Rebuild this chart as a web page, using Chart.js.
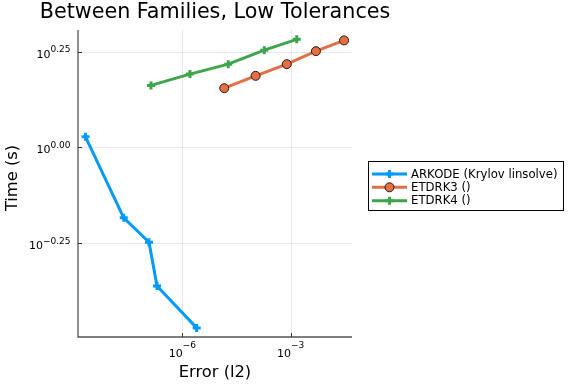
<!DOCTYPE html>
<html>
<head>
<meta charset="utf-8">
<script src="https://cdn.jsdelivr.net/npm/chart.js@4"></script>
<style>
  html, body { margin: 0; padding: 0; background: #fff; }
</style>
</head>
<body>
<canvas id="chart" width="576" height="384"></canvas>
<script>
// data (log-log)
const seriesNames = ['ARKODE (Krylov linsolve)', 'ETDRK3 ()', 'ETDRK4 ()'];
const arkodeError = [2.1e-9, 2.4e-8, 1.2e-7, 2.0e-7, 2.5e-6];
const arkodeTime = [1.066, 0.655, 0.566, 0.435, 0.338];
const etdrk3Error = [1.45e-5, 1.07e-4, 7.8e-4, 5.0e-3, 3.0e-2];
const etdrk3Time = [1.428, 1.538, 1.650, 1.784, 1.903];
const etdrk4Error = [1.36e-7, 1.63e-6, 1.87e-5, 1.86e-4, 1.47e-3];
const etdrk4Time = [1.452, 1.554, 1.650, 1.795, 1.915];

const xTicks = [1e-6, 1e-3];
const xTickLabels = [['10', '\u22126'], ['10', '\u22123']];
const yTicks = [Math.pow(10, -0.25), 1, Math.pow(10, 0.25)];
const yTickLabels = [['10', '\u22120.25'], ['10', '0.00'], ['10', '0.25']];

const FONT = "'DejaVu Sans', sans-serif";
const pts = (xs, ys) => xs.map((x, i) => ({x: x, y: ys[i]}));

// grid, spines, tick labels, titles and legend box
const decor = {
  id: 'decor',
  beforeDatasetsDraw(chart) {
    const ctx = chart.ctx, a = chart.chartArea;
    const xs = chart.scales.x, ys = chart.scales.y;
    ctx.save();
    ctx.strokeStyle = 'rgba(0,0,0,0.09)';
    ctx.lineWidth = 1;
    xTicks.forEach(t => {
      const px = Math.round(xs.getPixelForValue(t)) + 0.5;
      ctx.beginPath(); ctx.moveTo(px, a.top); ctx.lineTo(px, a.bottom); ctx.stroke();
    });
    yTicks.forEach(t => {
      const py = Math.round(ys.getPixelForValue(t)) + 0.5;
      ctx.beginPath(); ctx.moveTo(a.left, py); ctx.lineTo(a.right, py); ctx.stroke();
    });
    // spines
    ctx.strokeStyle = '#555';
    ctx.lineWidth = 1.3;
    ctx.beginPath();
    ctx.moveTo(a.left, a.top); ctx.lineTo(a.left, a.bottom); ctx.lineTo(a.right, a.bottom);
    ctx.stroke();
    ctx.lineWidth = 1;
    ctx.strokeStyle = '#333';
    xTicks.forEach(t => {
      const px = Math.round(xs.getPixelForValue(t)) + 0.5;
      ctx.beginPath(); ctx.moveTo(px, a.bottom); ctx.lineTo(px, a.bottom - 4); ctx.stroke();
    });
    yTicks.forEach(t => {
      const py = Math.round(ys.getPixelForValue(t)) + 0.5;
      ctx.beginPath(); ctx.moveTo(a.left, py); ctx.lineTo(a.left + 4, py); ctx.stroke();
    });
    ctx.restore();
  },
  afterDraw(chart) {
    const ctx = chart.ctx, a = chart.chartArea;
    const xs = chart.scales.x, ys = chart.scales.y;
    ctx.save();
    ctx.fillStyle = '#000';
    ctx.textBaseline = 'alphabetic';
    ctx.textAlign = 'left';
    const base = '11px ' + FONT, sup = '9px ' + FONT;

    // x tick labels
    xTicks.forEach((t, i) => {
      const px = xs.getPixelForValue(t);
      ctx.font = base;
      const wb = ctx.measureText(xTickLabels[i][0]).width;
      ctx.font = sup;
      const ws = ctx.measureText(xTickLabels[i][1]).width;
      const x0 = px - (wb + ws) / 2;
      ctx.font = base;
      ctx.fillText(xTickLabels[i][0], x0, a.bottom + 20);
      ctx.font = sup;
      ctx.fillText(xTickLabels[i][1], x0 + wb, a.bottom + 11);
    });
    // y tick labels
    yTicks.forEach((t, i) => {
      const py = ys.getPixelForValue(t);
      ctx.font = sup;
      const ws = ctx.measureText(yTickLabels[i][1]).width;
      ctx.font = base;
      const wb = ctx.measureText(yTickLabels[i][0]).width;
      const right = a.left - 7.5;
      ctx.fillText(yTickLabels[i][0], right - ws - wb, py + 6);
      ctx.font = sup;
      ctx.fillText(yTickLabels[i][1], right - ws, py + 0.5);
    });

    // title and axis titles
    ctx.textAlign = 'center';
    ctx.font = '20.7px ' + FONT;
    ctx.fillText('Between Families, Low Tolerances', (a.left + a.right) / 2, 18);
    ctx.font = '16.3px ' + FONT;
    ctx.fillText('Error (l2)', (a.left + a.right) / 2, 377);
    ctx.save();
    ctx.translate(17, 178);
    ctx.rotate(-Math.PI / 2);
    ctx.fillText('Time (s)', 0, 0);
    ctx.restore();

    // legend
    ctx.strokeStyle = '#000';
    ctx.lineWidth = 1;
    ctx.strokeRect(368.5, 161.5, 195, 49);
    const rows = [174, 187.3, 200.7];
    ctx.textAlign = 'left';
    ctx.textBaseline = 'middle';
    chart.data.datasets.forEach((ds, i) => {
      const y = rows[i];
      ctx.strokeStyle = ds.borderColor;
      ctx.lineWidth = 3;
      ctx.beginPath(); ctx.moveTo(372, y); ctx.lineTo(407, y); ctx.stroke();
      ctx.fillStyle = ds.pointBackgroundColor;
      ctx.strokeStyle = ds.pointBorderColor;
      ctx.lineWidth = ds.pointBorderWidth;
      ctx.beginPath();
      if (ds.pointStyle === 'circle') {
        ctx.arc(389.5, y, ds.pointRadius, 0, Math.PI * 2);
        ctx.fill(); ctx.stroke();
      } else {
        const r = ds.pointRadius;
        ctx.moveTo(389.5 - r, y); ctx.lineTo(389.5 + r, y);
        ctx.moveTo(389.5, y - r); ctx.lineTo(389.5, y + r);
        ctx.stroke();
      }
      ctx.fillStyle = '#000';
      ctx.font = '11.7px ' + FONT;
      ctx.fillText(ds.label, 411, y + 0.5);
    });
    ctx.restore();
  }
};

new Chart(document.getElementById('chart'), {
  type: 'line',
  data: {
    datasets: [
      {
        label: seriesNames[0],
        data: pts(arkodeError, arkodeTime),
        borderColor: '#009AFA',
        borderWidth: 3,
        pointStyle: 'cross',
        pointRadius: 4,
        pointBorderWidth: 3,
        pointBorderColor: '#009AFA',
        pointBackgroundColor: '#009AFA'
      },
      {
        label: seriesNames[1],
        data: pts(etdrk3Error, etdrk3Time),
        borderColor: '#E26F46',
        borderWidth: 3,
        pointStyle: 'circle',
        pointRadius: 4.5,
        pointBorderWidth: 1,
        pointBorderColor: '#2a1a14',
        pointBackgroundColor: '#E26F46'
      },
      {
        label: seriesNames[2],
        data: pts(etdrk4Error, etdrk4Time),
        borderColor: '#3EA44E',
        borderWidth: 3,
        pointStyle: 'cross',
        pointRadius: 4,
        pointBorderWidth: 3,
        pointBorderColor: '#3EA44E',
        pointBackgroundColor: '#3EA44E'
      }
    ]
  },
  options: {
    responsive: false,
    animation: false,
    devicePixelRatio: 1,
    layout: { padding: { left: 78, right: 224, top: 30, bottom: 47 } },
    plugins: { legend: { display: false }, title: { display: false }, tooltip: { enabled: false } },
    scales: {
      x: { type: 'logarithmic', display: false, bounds: 'data', min: 1.3e-9, max: 0.0498 },
      y: { type: 'logarithmic', display: false, bounds: 'data', min: 0.32, max: 2.026 }
    }
  },
  plugins: [decor]
});
</script>
</body>
</html>
